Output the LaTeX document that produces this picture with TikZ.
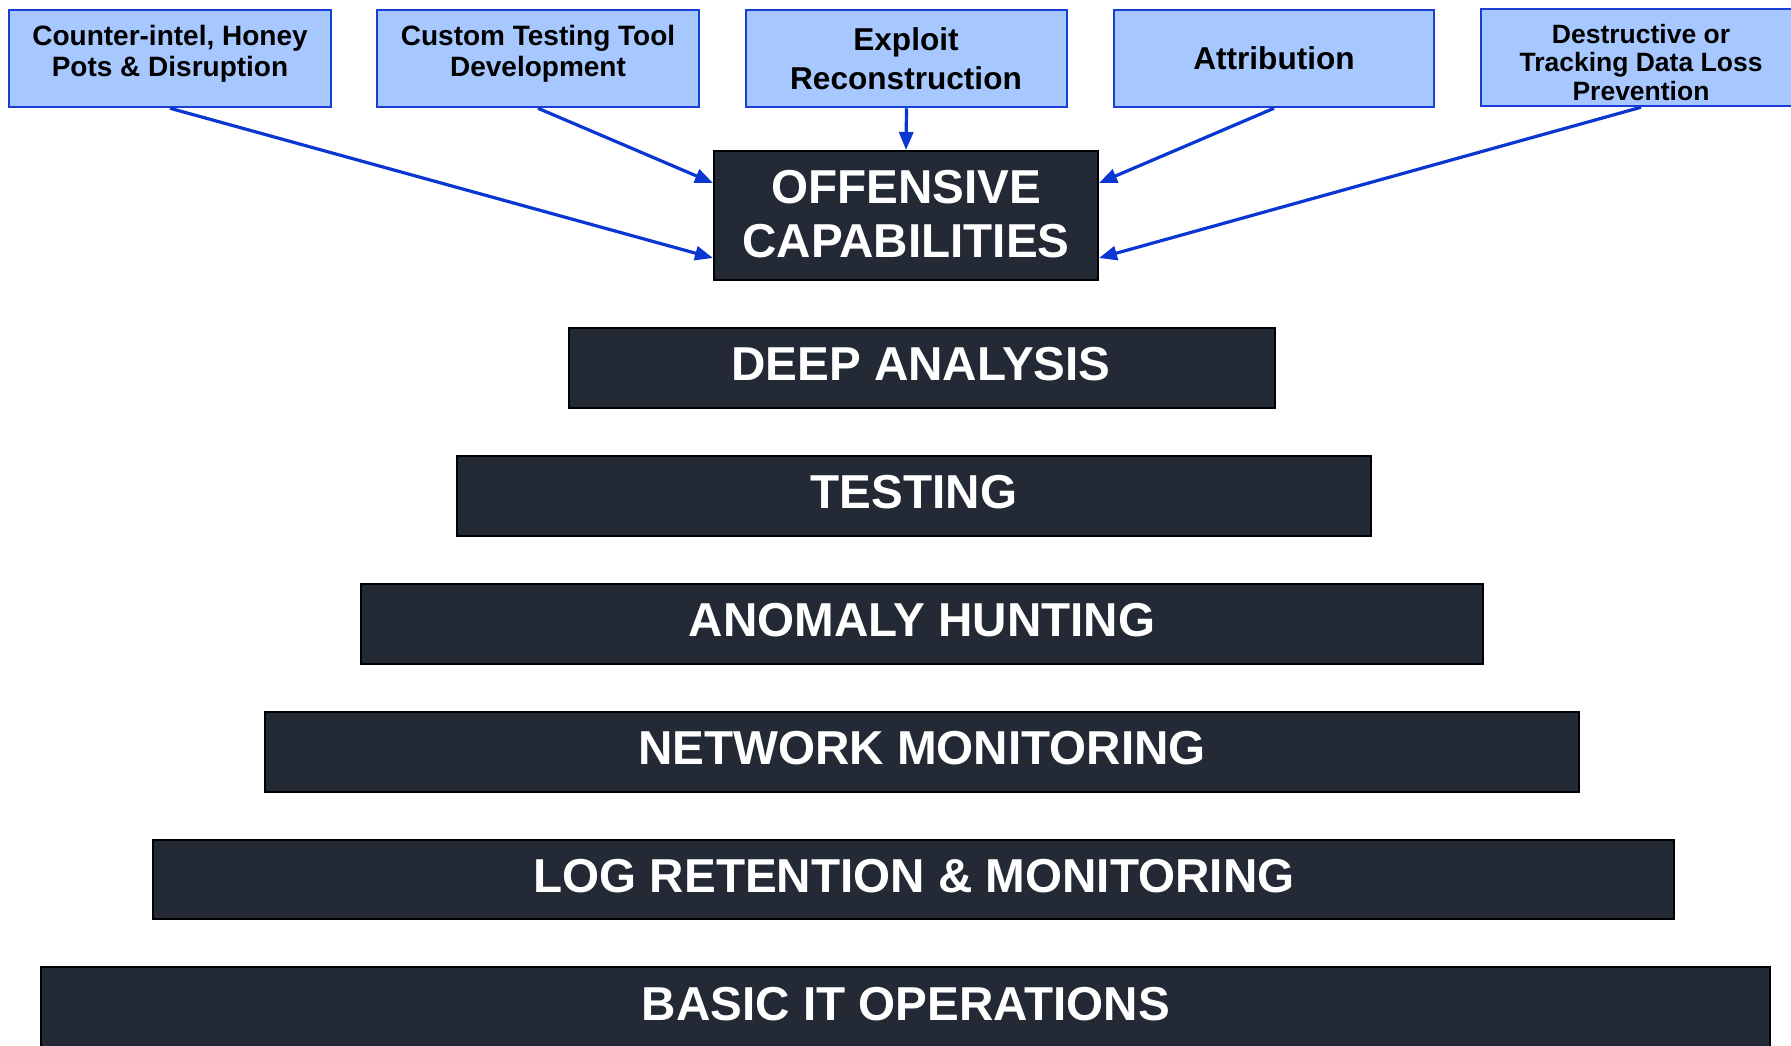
\documentclass[tikz,border=0pt]{standalone}
\usepackage{fontspec}
\setmainfont{Liberation Sans}
\usetikzlibrary{arrows.meta}
\definecolor{lightblue}{HTML}{A6C8FF}
\definecolor{boxblue}{HTML}{1A3FD6}
\definecolor{arrowblue}{HTML}{0A36D2}
\definecolor{tierdark}{HTML}{232A35}
\tikzset{
  topbox/.style={draw=boxblue, fill=lightblue, line width=2.5pt, inner sep=0pt, minimum height=97pt},
  tierbox/.style={draw=black, fill=tierdark, line width=2pt, inner sep=0pt, minimum height=80pt},
  toptext/.style={inner sep=0pt, anchor=base, align=center, font=\bfseries},
  tiertext/.style={inner sep=0pt, anchor=base, text=white, font=\bfseries\fontsize{47.6}{54}\selectfont},
  arr/.style={draw=arrowblue, line width=3.2pt, -{Triangle[length=18pt,width=14pt]}}
}
\begin{document}
\begin{tikzpicture}[x=1pt,y=-1pt]
\useasboundingbox (0,0) rectangle (1791,1045);
% top boxes
\node[topbox, minimum width=322pt] (b1) at (170,58.5) {};
\node[topbox, minimum width=322pt] (b2) at (538,58.5) {};
\node[topbox, minimum width=321pt] (b3) at (906.5,58.5) {};
\node[topbox, minimum width=320pt] (b4) at (1274,58.5) {};
\node[topbox, minimum width=320pt] (b5) at (1641,57.5) {};
\node[toptext, font=\bfseries\fontsize{28}{31}\selectfont] (t1) at (170,76) {Counter-intel, Honey\\Pots \& Disruption};
\node[toptext, font=\bfseries\fontsize{28}{31}\selectfont] (t2) at (538,76) {Custom Testing Tool\\Development};
\node[toptext, font=\bfseries\fontsize{31.6}{39}\selectfont] (t3) at (906,89) {Exploit\\Reconstruction};
\node[toptext, font=\bfseries\fontsize{31.6}{39}\selectfont] (t4) at (1274,69) {Attribution};
\node[toptext, font=\bfseries\fontsize{26.5}{28.5}\selectfont] (t5) at (1641,100) {Destructive or\\Tracking Data Loss\\Prevention};
% offensive
\node[tierbox, minimum width=384pt, minimum height=129pt] (off) at (906,215.5) {};
\node[tiertext, align=center] (offt) at (906,257) {OFFENSIVE\\CAPABILITIES};
% tiers
\node[tierbox, minimum width=706pt] (deep) at (922,368) {};
\node[tiertext] (deept) at (921,380) {DEEP ANALYSIS};
\node[tierbox, minimum width=914pt] (test) at (914,496) {};
\node[tiertext] (testt) at (914,508) {TESTING};
\node[tierbox, minimum width=1122pt] (anom) at (922,624) {};
\node[tiertext] (anomt) at (922,636) {ANOMALY HUNTING};
\node[tierbox, minimum width=1314pt] (net) at (922,752) {};
\node[tiertext] (nett) at (922,764) {NETWORK MONITORING};
\node[tierbox, minimum width=1521pt, minimum height=79pt] (log) at (913.5,879.5) {};
\node[tiertext] (logt) at (914,892) {LOG RETENTION \& MONITORING};
\node[tierbox, minimum width=1729pt, minimum height=103pt] (basic) at (905.5,1018.5) {};
\node[tiertext] (basict) at (906,1020) {BASIC IT OPERATIONS};
% arrows
\coordinate (offWhi) at ([yshift=32.5pt]off.west);
\coordinate (offWlo) at ([yshift=-42.5pt]off.west);
\coordinate (offEhi) at ([yshift=32.5pt]off.east);
\coordinate (offElo) at ([yshift=-42.5pt]off.east);
\draw[arr] (b1.south) -- (offWlo);
\draw[arr] (b2.south) -- (offWhi);
\draw[arr] (b3.south) -- (off.north);
\draw[arr] (b4.south) -- (offEhi);
\draw[arr] (b5.south) -- (offElo);
\end{tikzpicture}
\end{document}
